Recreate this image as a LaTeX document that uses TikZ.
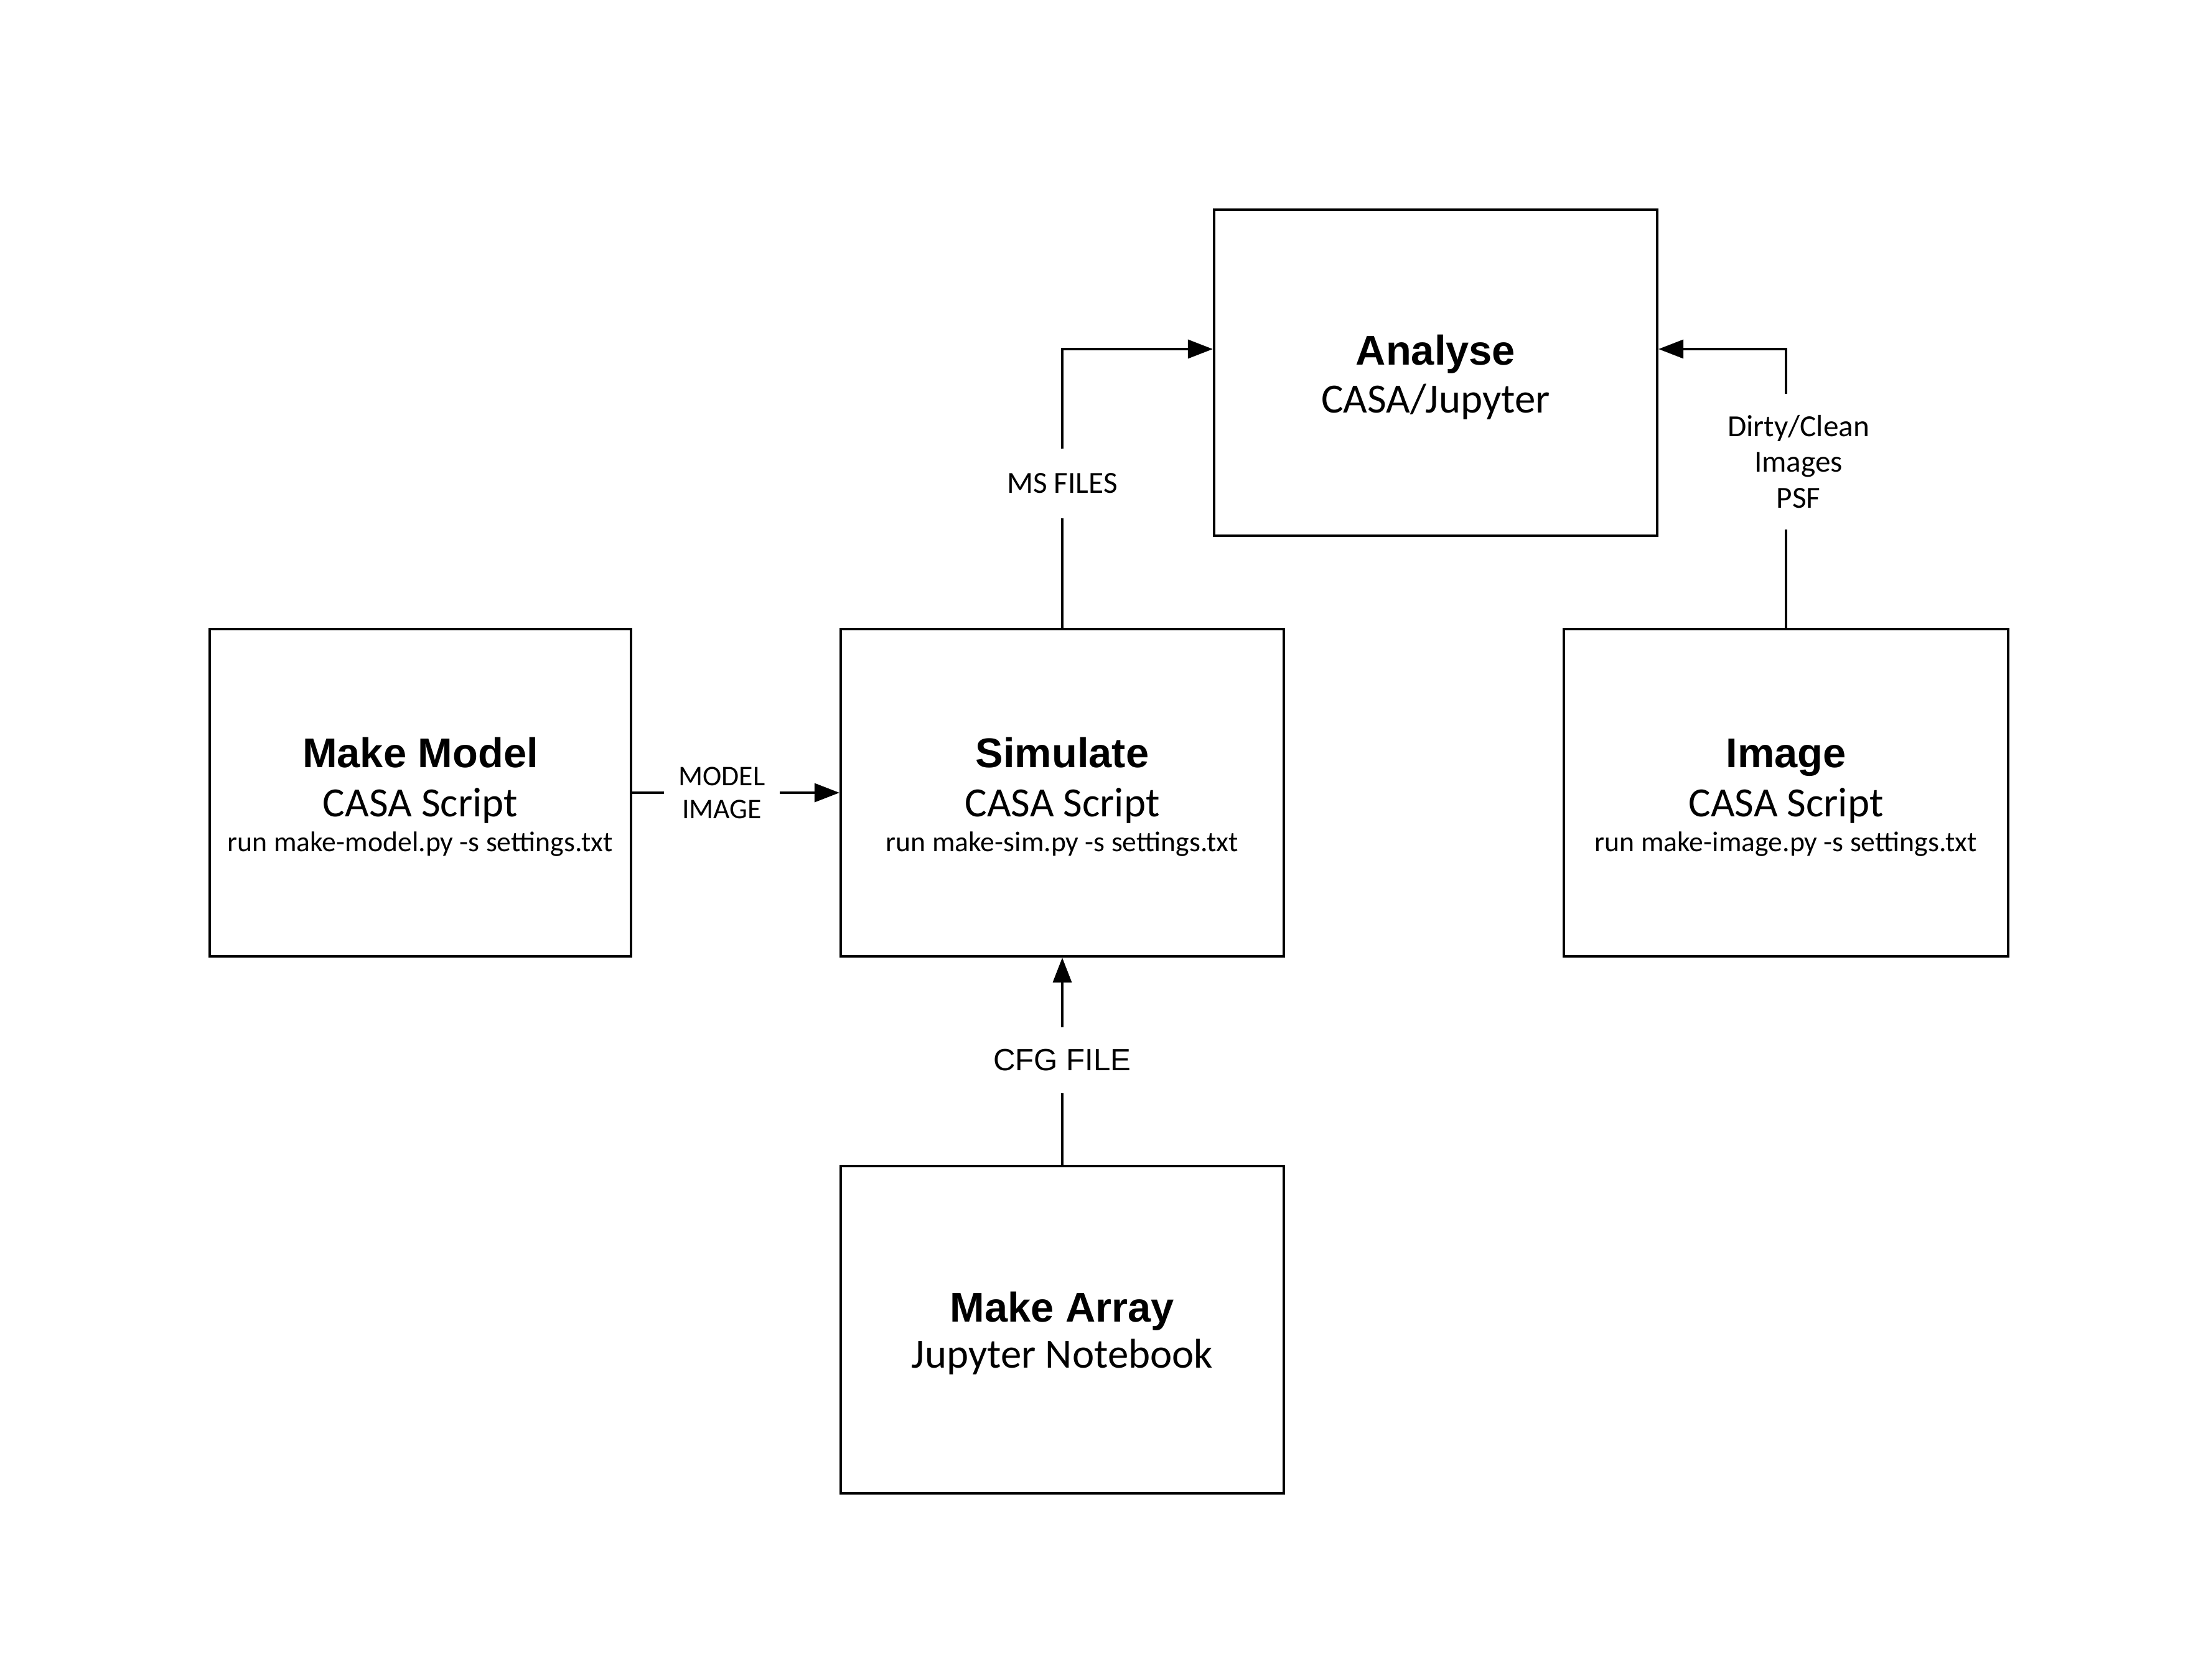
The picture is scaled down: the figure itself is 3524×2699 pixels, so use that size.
\documentclass[tikz,border=0pt]{standalone}
\usepackage{fontspec}
\setmainfont{Carlito}
\newfontfamily\arialfont{Liberation Sans}
\usetikzlibrary{arrows.meta}
\newcommand\myTtl{\arialfont\bfseries\fontsize{19}{23}\selectfont}
\newcommand\mySub{\fontsize{19}{23}\selectfont}
\newcommand\myCmd{\fontsize{13}{16}\selectfont}
\newcommand\myLbl{\fontsize{14}{16.3}\selectfont}
\newcommand\myMdl{\fontsize{13}{15.1}\selectfont}
\newcommand\myCfg{\arialfont\fontsize{14}{16}\selectfont}
\tikzset{
  boxnode/.style={draw, line width=1.1pt, rectangle, inner sep=0pt},
  ttltext/.style={font=\myTtl, anchor=base, inner sep=0pt},
  subtext/.style={font=\mySub, anchor=base, inner sep=0pt},
  cmdtext/.style={font=\myCmd, anchor=base, inner sep=0pt},
  lbltext/.style={font=\myLbl, align=center, inner sep=0pt},
  conn/.style={line width=1pt},
  arrconn/.style={line width=1pt, -{Triangle[length=0.4cm,width=0.3cm]}},
}
\begin{document}
\begin{tikzpicture}[x=0.01cm,y=-0.01cm]
\fill[white] (0,0) rectangle (3524,2699);
\useasboundingbox (0,0) rectangle (3524,2699);

% boxes
\node[boxnode, minimum width=7.12cm, minimum height=5.24cm] (ana) at (2307,599) {};
\node[boxnode, minimum width=6.77cm, minimum height=5.26cm] (mm) at (675.5,1274) {};
\node[boxnode, minimum width=7.12cm, minimum height=5.26cm] (sim) at (1707,1274) {};
\node[boxnode, minimum width=7.14cm, minimum height=5.26cm] (img) at (2870,1274) {};
\node[boxnode, minimum width=7.12cm, minimum height=5.26cm] (mka) at (1707,2137) {};

% box texts
\node[ttltext] (anat) at (2307,586) {Analyse};
\node[subtext] (anas) at (2307,663) {CASA/Jupyter};

\node[ttltext] (mmt) at (675.5,1233) {Make Model};
\node[subtext] (mms) at (675.5,1312) {CASA Script};
\node[cmdtext] (mmc) at (675.5,1368) {run make-model.py -s settings.txt};

\node[ttltext] (simt) at (1707,1233) {Simulate};
\node[subtext] (sims) at (1707,1312) {CASA Script};
\node[cmdtext] (simc) at (1707,1368) {run make-sim.py -s settings.txt};

\node[ttltext] (imgt) at (2870,1233) {Image};
\node[subtext] (imgs) at (2870,1312) {CASA Script};
\node[cmdtext] (imgc) at (2870,1368) {run make-image.py -s settings.txt};

\node[ttltext] (mkat) at (1707,2124) {Make Array};
\node[subtext] (mkas) at (1707,2198) {Jupyter Notebook};

% connector labels
\node[lbltext, font=\myMdl, minimum width=1.85cm] (mdl) at (1160,1274) {MODEL\\IMAGE};
\node[lbltext, minimum height=1.1cm] (msl) at (1707,777) {MS FILES};
\node[lbltext, minimum height=2.17cm] (dcl) at (2890,742) {Dirty/Clean\\Images\\PSF};
\node[lbltext, font=\myCfg, minimum height=1.05cm] (cfg) at (1707,1704) {CFG FILE};

% connectors
\draw[conn] (mm.east) -- (mdl.west);
\draw[arrconn] (mdl.east) -- (sim.west);
\draw[conn] (sim.north) -- (msl.south);
\draw[arrconn] (msl.north) |- ([yshift=0.38cm]ana.west);
\draw[conn] (img.north) -- (img.north |- dcl.south);
\draw[arrconn] (img.north |- dcl.north) |- ([yshift=0.38cm]ana.east);
\draw[conn] (mka.north) -- (cfg.south);
\draw[arrconn] (cfg.north) -- (sim.south);
\end{tikzpicture}
\end{document}
